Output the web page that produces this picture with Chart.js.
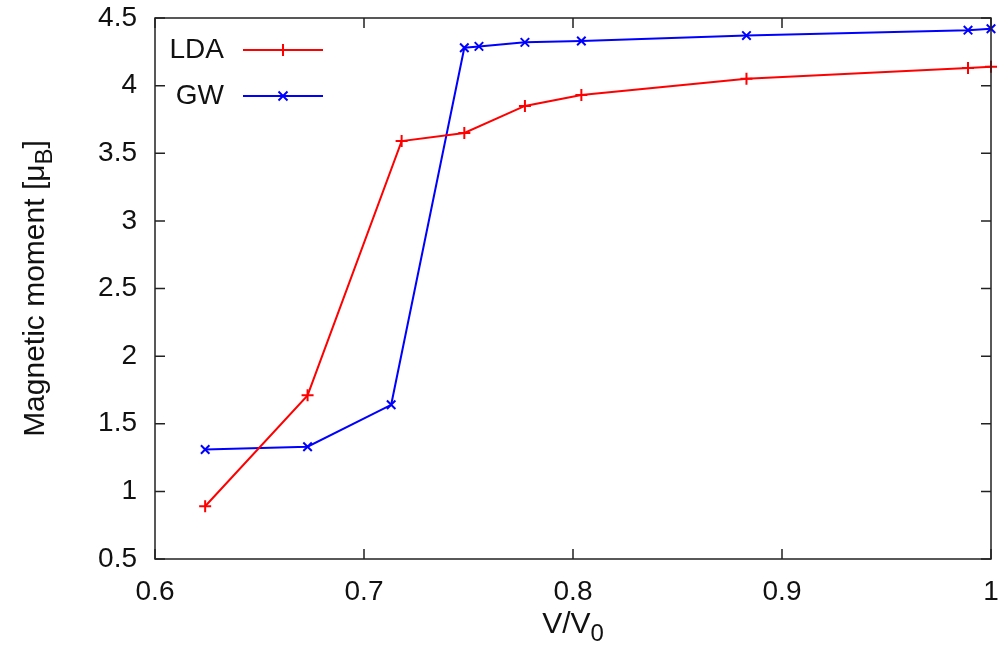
<!DOCTYPE html>
<html>
<head>
<meta charset="utf-8">
<script src="https://cdn.jsdelivr.net/npm/chart.js@4/dist/chart.umd.min.js"></script>
<style>
  html, body { margin: 0; padding: 0; background: #fff; }
  #wrap { width: 1006px; height: 650px; }
</style>
</head>
<body>
<div id="wrap"><canvas id="grafica"></canvas></div>
<script>
// ===============================
// DATOS
// ===============================
const ldaV = [0.624, 0.673, 0.718, 0.748, 0.777, 0.804, 0.883, 0.989, 1.0];
const ldaM = [0.89, 1.71, 3.59, 3.65, 3.85, 3.93, 4.05, 4.13, 4.14];
const gwV  = [0.624, 0.673, 0.713, 0.748, 0.755, 0.777, 0.804, 0.883, 0.989, 1.0];
const gwM  = [1.31, 1.33, 1.64, 4.28, 4.29, 4.32, 4.33, 4.37, 4.41, 4.42];
const xTicks = [0.6, 0.7, 0.8, 0.9, 1];
const yTicks = [0.5, 1, 1.5, 2, 2.5, 3, 3.5, 4, 4.5];

const FUENTE = '"Liberation Sans", Arial, sans-serif';
const TAM = 28;      // ticks y leyenda
const TAM_T = 30;    // títulos de ejes
const TINTA = "#111";

// texto con subíndices: [{t, sub}]
function textoSub(ctx, partes, x, y, align) {
    const normal = TAM_T + "px " + FUENTE;
    const chico = Math.round(TAM_T * 0.8) + "px " + FUENTE;
    let ancho = 0;
    partes.forEach(p => { ctx.font = p.sub ? chico : normal; ancho += ctx.measureText(p.t).width; });
    let cx = align === "center" ? x - ancho / 2 : x;
    ctx.textAlign = "left";
    ctx.textBaseline = "middle";
    partes.forEach(p => {
        ctx.font = p.sub ? chico : normal;
        ctx.fillText(p.t, cx, p.sub ? y + 9 : y);
        cx += ctx.measureText(p.t).width;
    });
}

// marco, marcas internas, títulos y leyenda estilo gnuplot
const marcoPlugin = {
    id: "marco",
    afterDraw(chart) {
        const ctx = chart.ctx;
        const a = chart.chartArea;
        const sx = chart.scales.x, sy = chart.scales.y;
        ctx.save();
        ctx.strokeStyle = "#222";
        ctx.lineWidth = 1.5;
        ctx.strokeRect(a.left, a.top, a.right - a.left, a.bottom - a.top);
        ctx.beginPath();
        xTicks.forEach(v => {
            const px = sx.getPixelForValue(v);
            ctx.moveTo(px, a.bottom); ctx.lineTo(px, a.bottom - 10);
            ctx.moveTo(px, a.top); ctx.lineTo(px, a.top + 10);
        });
        yTicks.forEach(v => {
            const py = sy.getPixelForValue(v);
            ctx.moveTo(a.left, py); ctx.lineTo(a.left + 10, py);
            ctx.moveTo(a.right, py); ctx.lineTo(a.right - 10, py);
        });
        ctx.stroke();

        ctx.fillStyle = TINTA;
        // título eje X
        textoSub(ctx, [{t: "V/V"}, {t: "0", sub: true}], (a.left + a.right) / 2, 625, "center");
        // título eje Y
        ctx.save();
        ctx.translate(36, (a.top + a.bottom) / 2);
        ctx.rotate(-Math.PI / 2);
        textoSub(ctx, [{t: "Magnetic moment [μ"}, {t: "B", sub: true}, {t: "]"}], 0, 0, "center");
        ctx.restore();

        // leyenda
        chart.data.datasets.forEach((ds, i) => {
            const y = 50 + i * 46;
            ctx.font = TAM + "px " + FUENTE;
            ctx.fillStyle = TINTA;
            ctx.textAlign = "right";
            ctx.textBaseline = "middle";
            ctx.fillText(ds.label, 224, y);
            ctx.strokeStyle = ds.borderColor;
            ctx.lineWidth = 2;
            ctx.beginPath();
            ctx.moveTo(243, y); ctx.lineTo(323, y);
            const r = 6;
            if (ds.pointStyle === "cross") {
                ctx.moveTo(283 - r, y); ctx.lineTo(283 + r, y);
                ctx.moveTo(283, y - r); ctx.lineTo(283, y + r);
            } else {
                const d = r * 0.75;
                ctx.moveTo(283 - d, y - d); ctx.lineTo(283 + d, y + d);
                ctx.moveTo(283 - d, y + d); ctx.lineTo(283 + d, y - d);
            }
            ctx.stroke();
        });
        ctx.restore();
    }
};

// ===============================
// GRÁFICA
// ===============================
new Chart(document.getElementById("grafica"), {
    type: "scatter",
    data: {
        datasets: [
            {
                label: "LDA",
                data: ldaV.map((v, i) => ({ x: v, y: ldaM[i] })),
                showLine: true,
                borderColor: "#ff0000",
                backgroundColor: "#ff0000",
                borderWidth: 2,
                pointStyle: "cross",
                pointRadius: 6,
                pointBorderWidth: 2,
                clip: false
            },
            {
                label: "GW",
                data: gwV.map((v, i) => ({ x: v, y: gwM[i] })),
                showLine: true,
                borderColor: "#0000ff",
                backgroundColor: "#0000ff",
                borderWidth: 2,
                pointStyle: "crossRot",
                pointRadius: 6,
                pointBorderWidth: 2,
                clip: false
            }
        ]
    },
    options: {
        responsive: true,
        maintainAspectRatio: false,
        animation: false,
        layout: { padding: { top: 18, right: 15, left: 0, bottom: 0 } },
        plugins: {
            legend: { display: false },
            tooltip: { enabled: false }
        },
        scales: {
            x: {
                type: "linear",
                min: 0.6, max: 1,
                afterBuildTicks: s => { s.ticks = xTicks.map(v => ({ value: v })); },
                afterFit: s => { s.height = 91; s.paddingLeft = 0; s.paddingRight = 0; },
                grid: { display: false, drawTicks: false },
                border: { display: false },
                ticks: {
                    padding: 16,
                    color: TINTA,
                    font: { family: FUENTE, size: TAM },
                    callback: v => String(v)
                }
            },
            y: {
                type: "linear",
                min: 0.5, max: 4.5,
                afterBuildTicks: s => { s.ticks = yTicks.map(v => ({ value: v })); },
                afterFit: s => { s.width = 155; s.paddingTop = 0; s.paddingBottom = 0; },
                grid: { display: false, drawTicks: false },
                border: { display: false },
                ticks: {
                    padding: 18,
                    color: TINTA,
                    font: { family: FUENTE, size: TAM },
                    callback: v => String(v)
                }
            }
        }
    },
    plugins: [marcoPlugin]
});
</script>
</body>
</html>
